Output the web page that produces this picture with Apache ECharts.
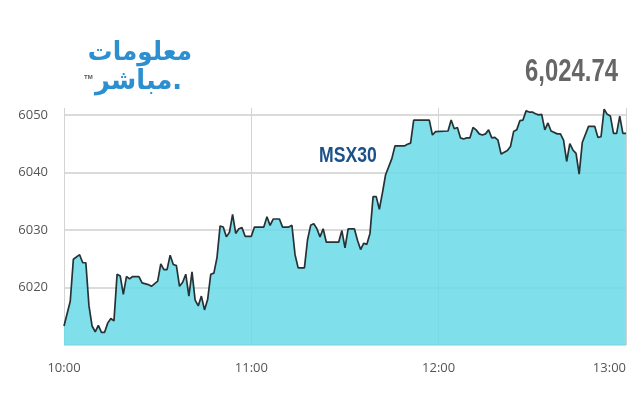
<!DOCTYPE html>
<html>
<head>
<meta charset="utf-8">
<script src="https://cdn.jsdelivr.net/npm/echarts@6/dist/echarts.min.js"></script>
<style>
html,body{margin:0;padding:0;background:#fff;}
#chart{width:640px;height:400px;}
</style>
</head>
<body>
<div id="chart"></div>
<script>
// ---- data ----
var times = ["10:00","10:02","10:03","10:05","10:06","10:07","10:08","10:09","10:10","10:11","10:12","10:13","10:14","10:15","10:16","10:17","10:18","10:19","10:20","10:21","10:22","10:24","10:25","10:27","10:28","10:30","10:31","10:32","10:33","10:34","10:35","10:36","10:37","10:38","10:39","10:40","10:41","10:42","10:43","10:44","10:45","10:46","10:47","10:48","10:49","10:50","10:51","10:52","10:53","10:54","10:55","10:56","10:57","10:58","10:59","11:00","11:01","11:04","11:05","11:06","11:07","11:09","11:10","11:12","11:13","11:14","11:15","11:17","11:18","11:19","11:20","11:21","11:22","11:23","11:24","11:28","11:29","11:30","11:31","11:33","11:34","11:35","11:36","11:37","11:38","11:39","11:40","11:41","11:42","11:43","11:45","11:46","11:49","11:50","11:51","11:52","11:57","11:58","11:59","12:03","12:04","12:05","12:06","12:07","12:08","12:09","12:10","12:11","12:12","12:13","12:14","12:15","12:16","12:17","12:18","12:19","12:20","12:21","12:22","12:23","12:24","12:25","12:26","12:27","12:28","12:29","12:30","12:31","12:32","12:33","12:34","12:35","12:36","12:38","12:39","12:40","12:41","12:42","12:43","12:44","12:45","12:46","12:48","12:50","12:51","12:52","12:53","12:54","12:55","12:56","12:57","12:58","12:59","13:00"];
var values = [6013.3,6017.6,6024.9,6025.7,6024.3,6024.3,6016.8,6013.3,6012.3,6013.4,6012.2,6012.2,6013.8,6014.6,6014.2,6022.3,6022.0,6018.8,6021.9,6021.5,6021.9,6021.9,6020.8,6020.5,6020.2,6021.1,6024.1,6023.1,6023.1,6025.6,6024.0,6023.8,6020.2,6020.9,6022.3,6018.5,6022.7,6017.8,6016.8,6018.5,6016.1,6017.9,6022.3,6022.5,6025.2,6030.7,6030.5,6028.8,6029.6,6032.7,6029.4,6030.2,6030.4,6028.9,6028.9,6028.9,6030.5,6030.5,6032.3,6030.8,6031.9,6031.9,6030.5,6030.5,6030.8,6025.7,6023.4,6023.4,6028.3,6030.8,6031.1,6030.2,6028.8,6030.2,6027.9,6027.9,6029.9,6026.9,6030.2,6030.2,6028.2,6026.6,6027.7,6027.5,6029.4,6035.8,6035.8,6033.6,6036.5,6039.6,6042.4,6044.6,6044.6,6044.9,6045.1,6049.1,6049.1,6046.5,6047.1,6047.2,6049.1,6047.6,6047.8,6046.0,6045.8,6046.0,6046.0,6047.8,6047.4,6046.7,6046.5,6046.7,6047.4,6046.0,6046.1,6045.6,6043.2,6043.5,6043.8,6044.5,6047.1,6047.4,6049.0,6049.1,6050.7,6050.5,6050.5,6050.2,6050.0,6050.1,6047.4,6048.6,6047.2,6046.7,6046.7,6045.6,6041.9,6045.0,6043.9,6043.3,6039.7,6045.2,6048.0,6048.0,6046.1,6046.2,6051.0,6050.1,6049.8,6046.8,6046.8,6049.8,6046.8,6046.8,6046.8];
var xTicks = ["10:00","11:00","12:00","13:00"];
var yTicks = [6020,6030,6040,6050];
var lastValue = "6,024.74";
var indexName = "MSX30";

function toMin(t){var p=t.split(":");return (+p[0])*60+(+p[1]);}
function fmt(m){var h=Math.floor(m/60),mm=Math.round(m-h*60);return h+":"+(mm<10?"0":"")+mm;}
var seriesData = times.map(function(t,i){return [toMin(t), values[i]];});
var xMin = toMin(xTicks[0]), xMax = toMin(xTicks[xTicks.length-1]);

var chart = echarts.init(document.getElementById('chart'), null, {renderer:'canvas'});
chart.setOption({
  animation:false,
  backgroundColor:'#ffffff',
  grid:{left:64,right:14,top:108,bottom:55,show:false},
  xAxis:{
    type:'value', min:xMin, max:xMax, interval:60,
    axisLine:{show:false}, axisTick:{show:false},
    splitLine:{show:true,lineStyle:{color:'#d3d3d3',width:1}},
    axisLabel:{margin:17,color:'#555',fontFamily:'Open Sans',fontSize:13,
      formatter:function(v){return fmt(v);}, alignMaxLabel:'right'}
  },
  yAxis:{
    type:'value', min:6010, max:6051.2, interval:10,
    axisLine:{show:false}, axisTick:{show:false},
    splitLine:{show:true,showMaxLine:false,showMinLine:true,lineStyle:{color:'#cfcfcf',width:1.5}},
    axisLabel:{margin:16,color:'#555',fontFamily:'Open Sans',fontSize:13,
      formatter:function(v){return yTicks.indexOf(Math.round(v))>=0 && Math.abs(v-Math.round(v))<1e-6 ? String(v) : '';}}
  },
  series:[{
    type:'line', data:seriesData, symbol:'none', smooth:false,
    lineStyle:{color:'#263236',width:1.7},
    areaStyle:{color:'rgb(106,218,230)',opacity:0.86}
  }],
  graphic:[
    {type:'text',x:618,y:57,scaleX:0.77,style:{text:lastValue,fill:'#666',textAlign:'right',textVerticalAlign:'top',font:'bold 31px "Liberation Sans", "Roboto", sans-serif'}},
    {type:'text',x:319,y:145,scaleX:0.8,style:{text:indexName,fill:'#1c5089',textAlign:'left',textVerticalAlign:'top',font:'bold 22px "Liberation Sans", "Roboto", sans-serif'}},
    {type:'text',x:192,y:40,scaleX:0.95,style:{text:'معلومات',fill:'#2b8fd0',textAlign:'right',textVerticalAlign:'top',font:'bold 26px "DejaVu Sans", sans-serif',shadowColor:'rgba(0,0,0,0.35)',shadowOffsetX:1,shadowOffsetY:2,shadowBlur:2}},
    {type:'text',x:182,y:68,scaleX:0.95,style:{text:'مباشر.',fill:'#2b8fd0',textAlign:'right',textVerticalAlign:'top',font:'bold 27px "DejaVu Sans", sans-serif',shadowColor:'rgba(0,0,0,0.35)',shadowOffsetX:1,shadowOffsetY:2,shadowBlur:2}},
    {type:'text',x:84,y:74,style:{text:'TM',fill:'#555',font:'bold 6px sans-serif'}}
  ]
});
</script>
</body>
</html>
